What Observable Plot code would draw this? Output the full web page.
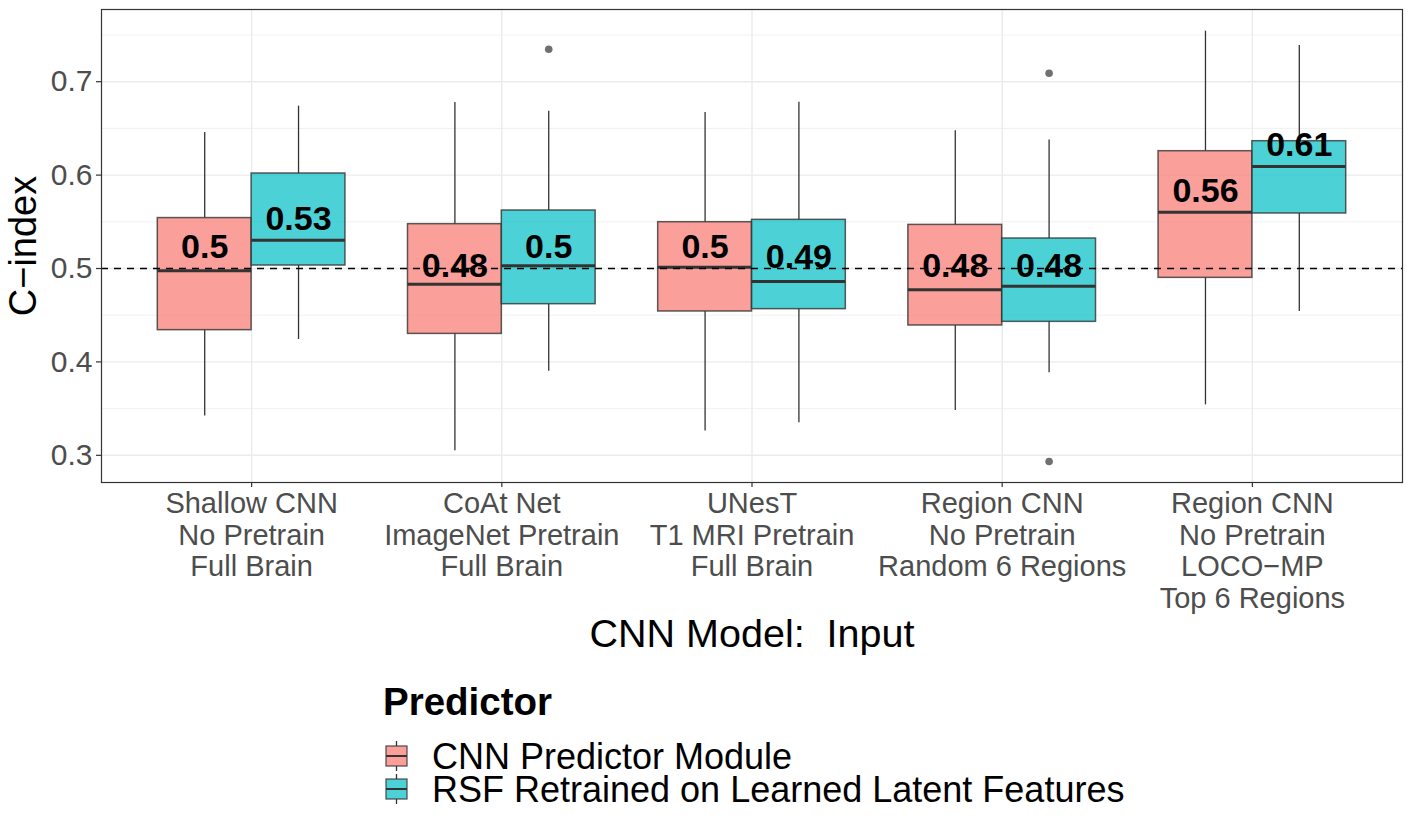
<!DOCTYPE html>
<html><head><meta charset="utf-8">
<script src="https://cdn.jsdelivr.net/npm/d3@7"></script>
<script src="https://cdn.jsdelivr.net/npm/@observablehq/plot@0.6"></script>
<style>
body{margin:0;background:#fff;font-family:"Liberation Sans",Arial,sans-serif;}
#wrap{width:1412px;height:824px;overflow:hidden;}
#wrap svg{display:block;}
</style></head><body><div id="wrap"></div>
<script>
// ---- data ----
const categories = [
  "Shallow CNN\nNo Pretrain\nFull Brain",
  "CoAt Net\nImageNet Pretrain\nFull Brain",
  "UNesT\nT1 MRI Pretrain\nFull Brain",
  "Region CNN\nNo Pretrain\nRandom 6 Regions",
  "Region CNN\nNo Pretrain\nLOCO−MP\nTop 6 Regions"
];
const predictors = ["CNN Predictor Module", "RSF Retrained on Learned Latent Features"];
const predictorColors = ["#F8766D", "#00BFC4"];

const cnnMin    = [0.342, 0.305, 0.326, 0.348, 0.354];
const cnnQ1     = [0.434, 0.430, 0.454, 0.439, 0.490];
const cnnMedian = [0.4975, 0.4832, 0.5014, 0.4772, 0.5603];
const cnnQ3     = [0.554, 0.5475, 0.5496, 0.5467, 0.6256];
const cnnMax    = [0.6456, 0.6777, 0.667, 0.6474, 0.7541];

const rsfMin    = [0.424, 0.390, 0.3348, 0.3883, 0.454];
const rsfQ1     = [0.5032, 0.4618, 0.4565, 0.4429, 0.5589];
const rsfMedian = [0.5303, 0.5029, 0.4861, 0.4811, 0.6092];
const rsfQ3     = [0.6017, 0.5621, 0.5521, 0.5321, 0.6363];
const rsfMax    = [0.6738, 0.6684, 0.678, 0.6377, 0.7387];

const outlierCategory  = [2, 4, 4];   // 1-based category index
const outlierPredictor = [1, 1, 1];   // 0 = CNN, 1 = RSF
const outlierValue     = [0.7348, 0.7091, 0.2934];

const yTicks = [0.3, 0.4, 0.5, 0.6, 0.7];
const yMinorTicks = [0.35, 0.45, 0.55, 0.65, 0.75];
const referenceLine = 0.5;

// ---- build table ----
const stats = [
  {min: cnnMin, q1: cnnQ1, med: cnnMedian, q3: cnnQ3, max: cnnMax},
  {min: rsfMin, q1: rsfQ1, med: rsfMedian, q3: rsfQ3, max: rsfMax}
];
const dodge = 0.375; // ggplot dodge width 0.75 split in two
const rows = [];
categories.forEach((c, k) => {
  predictors.forEach((p, j) => {
    const s = stats[j];
    const med = s.med[k];
    rows.push({
      cat: k + 1, predictor: p, pos: k + 1 + (j - 0.5) * dodge,
      min: s.min[k], q1: s.q1[k], median: med, q3: s.q3[k], max: s.max[k],
      label: Math.round(med * 100) / 100
    });
  });
});
const outliers = outlierValue.map((v, i) => ({
  pos: outlierCategory[i] + (outlierPredictor[i] - 0.5) * dodge,
  value: v, predictor: predictors[outlierPredictor[i]]
}));

const font = "Liberation Sans, Arial, Helvetica, sans-serif";
const half = dodge / 2;
const noText = () => "";

const chart = Plot.plot({
  width: 1412,
  height: 660,
  marginLeft: 101,
  marginRight: 10,
  marginTop: 9,
  marginBottom: 178,
  style: {fontFamily: font, background: "white", overflow: "visible"},
  x: {type: "linear", domain: [0.4, 5.6], label: null},
  y: {domain: [0.2709, 0.7773], label: null},
  color: {domain: predictors, range: predictorColors},
  marks: [
    Plot.gridY(yMinorTicks, {stroke: "#EBEBEB", strokeOpacity: 1, strokeWidth: 0.7}),
    Plot.gridY(yTicks, {stroke: "#EBEBEB", strokeOpacity: 1, strokeWidth: 1.4}),
    Plot.gridX([1, 2, 3, 4, 5], {stroke: "#EBEBEB", strokeOpacity: 1, strokeWidth: 1.4}),
    // whiskers
    Plot.ruleX(rows, {x: "pos", y1: "q3", y2: "max", stroke: "#333", strokeWidth: 1.3}),
    Plot.ruleX(rows, {x: "pos", y1: "min", y2: "q1", stroke: "#333", strokeWidth: 1.3}),
    // boxes
    Plot.rect(rows, {x1: d => d.pos - half, x2: d => d.pos + half, y1: "q1", y2: "q3",
      fill: "predictor", fillOpacity: 0.7, stroke: "#333", strokeOpacity: 0.8, strokeWidth: 1.5}),
    // medians
    Plot.ruleY(rows, {y: "median", x1: d => d.pos - half, x2: d => d.pos + half, stroke: "#333", strokeWidth: 3}),
    // outliers
    Plot.dot(outliers, {x: "pos", y: "value", r: 3.8, fill: "#333", fillOpacity: 0.7, stroke: "none"}),
    // reference line
    Plot.ruleY([referenceLine], {stroke: "black", strokeWidth: 1.4, strokeDasharray: "7,6"}),
    // median labels
    Plot.text(rows, {x: "pos", y: "label", text: d => String(d.label), dy: -21,
      fontSize: 34, fontWeight: "bold", fill: "black"}),
    Plot.frame({stroke: "#333", strokeWidth: 1.2}),
    // axes
    Plot.axisY(yTicks, {tickSize: 5, tickFormat: noText, stroke: "#333", strokeWidth: 1.2, label: null}),
    Plot.axisY(yTicks, {tickSize: 0, tickPadding: 9, tickFormat: d3.format(".1f"), fontSize: 30, color: "#4D4D4D", label: null}),
    Plot.axisX([1, 2, 3, 4, 5], {tickSize: 5, tickFormat: noText, stroke: "#333", strokeWidth: 1.2, label: null}),
    Plot.axisX([1, 2, 3, 4, 5], {tickSize: 0, tickPadding: 8, tickFormat: i => categories[i - 1],
      fontSize: 29, lineHeight: 1.09, color: "#4D4D4D", label: null}),
    // axis titles
    Plot.text(["C−index"], {frameAnchor: "left", dx: -78, rotate: -90, textAnchor: "middle", lineAnchor: "middle", fontSize: 38, fill: "black"}),
    Plot.text(["CNN Model:  Input"], {frameAnchor: "bottom", dy: 152, textAnchor: "middle", lineAnchor: "middle", fontSize: 39.5, fill: "black"})
  ]
});
document.getElementById("wrap").appendChild(chart);

// ---- legend below the chart ----
const leg = d3.select("#wrap").append("svg")
  .attr("width", 1412).attr("height", 164)
  .style("font-family", font);
leg.append("text").attr("x", 383).attr("y", 55)
  .attr("font-size", 38.5).attr("font-weight", "bold").attr("fill", "black").text("Predictor");
predictors.forEach((p, j) => {
  const cy = 96 + j * 33;
  const g = leg.append("g");
  g.append("line").attr("x1", 396.5).attr("x2", 396.5).attr("y1", cy - 15).attr("y2", cy + 15)
    .attr("stroke", "#333").attr("stroke-width", 1.3);
  g.append("rect").attr("x", 386).attr("y", cy - 10).attr("width", 21).attr("height", 20)
    .attr("fill", "white");
  g.append("rect").attr("x", 386).attr("y", cy - 10).attr("width", 21).attr("height", 20)
    .attr("fill", predictorColors[j]).attr("fill-opacity", 0.7)
    .attr("stroke", "#333").attr("stroke-opacity", 0.8).attr("stroke-width", 1.3);
  g.append("line").attr("x1", 386).attr("x2", 407).attr("y1", cy).attr("y2", cy)
    .attr("stroke", "#333").attr("stroke-width", 2);
  leg.append("text").attr("x", 432).attr("y", cy + 12.5)
    .attr("font-size", 36).attr("fill", "black").text(p);
});
</script></body></html>
